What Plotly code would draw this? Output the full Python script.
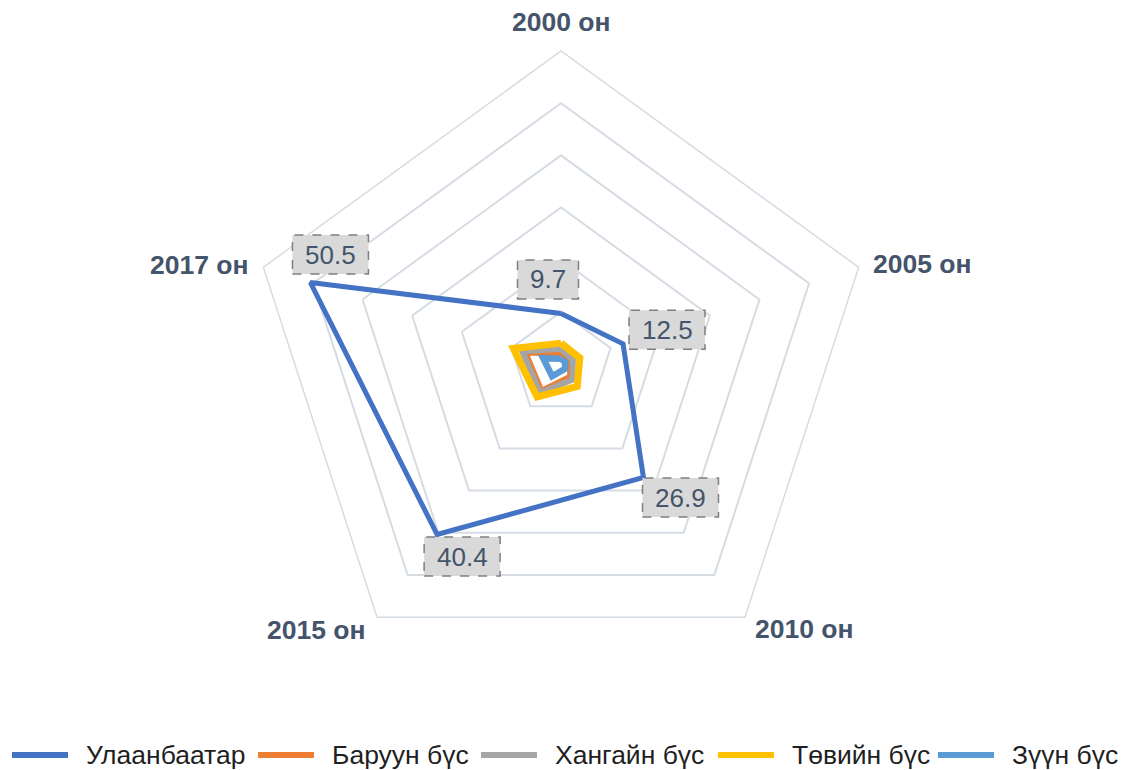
import math
import plotly.graph_objects as go

# Categories (years) and regional series
years = ["2000 он", "2005 он", "2010 он", "2015 он", "2017 он"]
series_names = ["Улаанбаатар", "Баруун бүс", "Хангайн бүс", "Төвийн бүс", "Зүүн бүс"]
ulaanbaatar = [9.7, 12.5, 26.9, 40.4, 50.5]
baruun = [2.0, 1.8, 3.0, 6.4, 7.2]
khangai = [2.9, 2.4, 3.7, 6.8, 7.8]
tuv = [4.0, 3.8, 5.3, 7.8, 9.6]
zuun = [1.0, 0.9, 1.2, 2.9, 3.6]

# Styling
colors = ["#4472C4", "#ED7D31", "#A5A5A5", "#FFC000", "#5B9BD5"]
widths = [5, 6, 6, 7, 6.5]
label_offsets = [(-13, -34), (44, -14), (37, 20), (25, 22), (20, -28)]  # px from point to label box centre
label_leader = [True, False, False, False, False]
# category label placement relative to the outer vertex: (dx, dy, xanchor)
cat_offsets = [(0, -29, "center"), (12, -3, "left"), (8, 12, "left"),
               (-9, 13, "right"), (-12, -2, "right")]

W, H = 1125, 770
R_MAX = 60
FONT = "Liberation Sans, Arial, sans-serif"
GRID = "#D6DCE4"
TEXT = "#44546A"

# Polar area: square box centred at (cx, cy) px with radius rad px
cx, cy, rad = 561, 364, 313
dom_x = [(cx - rad) / W, (cx + rad) / W]
dom_y = [1 - (cy + rad) / H, 1 - (cy - rad) / H]

all_series = [ulaanbaatar, baruun, khangai, tuv, zuun]

fig = go.Figure()
for name, vals, col, lw in zip(series_names, all_series, colors, widths):
    fig.add_trace(go.Scatterpolar(
        r=vals + vals[:1],
        theta=years + years[:1],
        mode="lines",
        name=name,
        line=dict(color=col, width=lw),
        showlegend=False,
        hoverinfo="r+theta+name",
    ))


def to_px(value, idx):
    # angle for category idx: start at top, clockwise
    ang = math.radians(90 - 360 * idx / len(years))
    r = value / R_MAX * rad
    return cx + r * math.cos(ang), cy - r * math.sin(ang)


shapes = []
annotations = []

# Category labels around the outer ring
for i, (cat, (dx, dy, anchor)) in enumerate(zip(years, cat_offsets)):
    px, py = to_px(R_MAX, i)
    annotations.append(dict(x=(px + dx) / W, y=1 - (py + dy) / H,
                            xref="paper", yref="paper", text=f"<b>{cat}</b>",
                            showarrow=False, xanchor=anchor, yanchor="middle",
                            font=dict(family=FONT, size=26.5, color=TEXT)))

# Value labels for Улаанбаатар
for i, (v, (dx, dy), lead) in enumerate(zip(ulaanbaatar, label_offsets, label_leader)):
    px, py = to_px(v, i)
    bx, by = px + dx, py + dy
    txt = f"{v:.1f}"
    bw, bh = 15 * len(txt) + 16, 39
    if lead:
        shapes.append(dict(type="line", xref="paper", yref="paper",
                           x0=bx / W, y0=1 - (by + bh / 2) / H,
                           x1=px / W, y1=1 - py / H,
                           line=dict(color="#BFC5CF", width=1.5), layer="below"))
    shapes.append(dict(type="rect", xref="paper", yref="paper",
                       x0=(bx - bw / 2) / W, x1=(bx + bw / 2) / W,
                       y0=1 - (by + bh / 2) / H, y1=1 - (by - bh / 2) / H,
                       fillcolor="#D9D9D9",
                       line=dict(color="#7F7F7F", width=1.5, dash="dash"),
                       layer="above"))
    annotations.append(dict(x=bx / W, y=1 - by / H, xref="paper", yref="paper",
                            text=txt, showarrow=False,
                            font=dict(family=FONT, size=26, color=TEXT),
                            xanchor="center", yanchor="middle"))

# Legend drawn along the bottom
legend_line_x = [12, 258, 481, 718, 938]
legend_text_x = [84, 330, 553, 790, 1010]
legend_y = 755
for name, col, lx, tx in zip(series_names, colors, legend_line_x, legend_text_x):
    shapes.append(dict(type="line", xref="paper", yref="paper",
                       x0=lx / W, x1=(lx + 56) / W,
                       y0=1 - legend_y / H, y1=1 - legend_y / H,
                       line=dict(color=col, width=6)))
    annotations.append(dict(x=tx / W, y=1 - legend_y / H, xref="paper", yref="paper",
                            text=name, showarrow=False,
                            font=dict(family=FONT, size=26.5, color="#1F1F1F"),
                            xanchor="left", yanchor="middle"))

fig.update_layout(
    width=W, height=H,
    margin=dict(l=0, r=0, t=0, b=0),
    paper_bgcolor="white",
    plot_bgcolor="white",
    showlegend=False,
    polar=dict(
        domain=dict(x=dom_x, y=dom_y),
        bgcolor="white",
        gridshape="linear",
        radialaxis=dict(
            range=[0, R_MAX], dtick=10, showticklabels=False, ticks="",
            showline=False, gridcolor=GRID, gridwidth=1.5,
        ),
        angularaxis=dict(
            rotation=90, direction="clockwise",
            showgrid=False, ticks="", showticklabels=False,
            linecolor=GRID, linewidth=1.5,
        ),
    ),
    shapes=shapes,
    annotations=annotations,
)

fig.write_html("out.html")
